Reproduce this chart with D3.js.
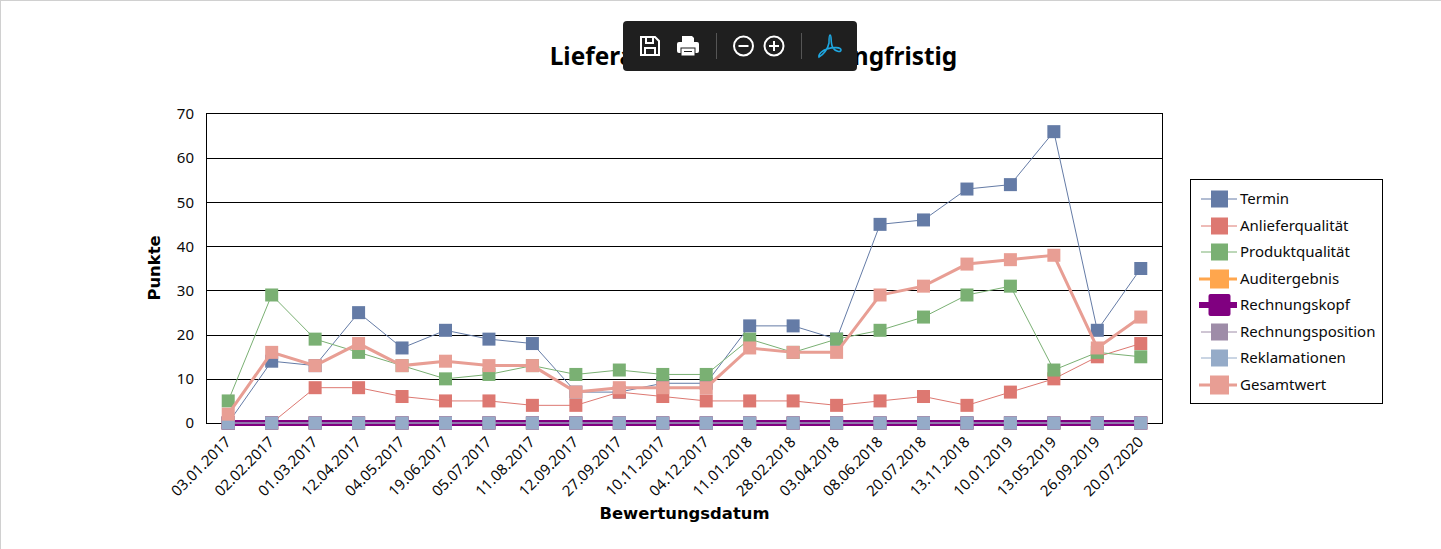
<!DOCTYPE html>
<html>
<head>
<meta charset="utf-8">
<script src="https://cdnjs.cloudflare.com/ajax/libs/d3/7.8.5/d3.min.js"></script>
<style>
html, body { margin: 0; padding: 0; background: #fff; overflow: hidden; }
svg { display: block; }
text { font-family: "Noto Sans", sans-serif; fill: #0a0a0a; }
.title { font-family: "Noto Sans", sans-serif; font-weight: bold; fill: #000; }
.axisTitle { font-family: "DejaVu Sans", sans-serif; font-weight: bold; fill: #000; }
</style>
</head>
<body>
<div id="chart"></div>
<script>
// chart values
var dates = ["03.01.2017", "02.02.2017", "01.03.2017", "12.04.2017", "04.05.2017", "19.06.2017",
    "05.07.2017", "11.08.2017", "12.09.2017", "27.09.2017", "10.11.2017", "04.12.2017",
    "11.01.2018", "28.02.2018", "03.04.2018", "08.06.2018", "20.07.2018", "13.11.2018",
    "10.01.2019", "13.05.2019", "26.09.2019", "20.07.2020"];
var termin = [0, 14, 13, 25, 17, 21, 19, 18, 7, 7, 9, 9, 22, 22, 19, 45, 46, 53, 54, 66, 21, 35];
var anlieferqualitaet = [0, 0, 8, 8, 6, 5, 5, 4, 4, 7, 6, 5, 5, 5, 4, 5, 6, 4, 7, 10, 15, 18];
var produktqualitaet = [5, 29, 19, 16, 13, 10, 11, 13, 11, 12, 11, 11, 19, 16, 19, 21, 24, 29, 31, 12, 16, 15];
var auditergebnis = [0, 0, 0, 0, 0, 0, 0, 0, 0, 0, 0, 0, 0, 0, 0, 0, 0, 0, 0, 0, 0, 0];
var rechnungskopf = [0, 0, 0, 0, 0, 0, 0, 0, 0, 0, 0, 0, 0, 0, 0, 0, 0, 0, 0, 0, 0, 0];
var rechnungsposition = [0, 0, 0, 0, 0, 0, 0, 0, 0, 0, 0, 0, 0, 0, 0, 0, 0, 0, 0, 0, 0, 0];
var reklamationen = [0, 0, 0, 0, 0, 0, 0, 0, 0, 0, 0, 0, 0, 0, 0, 0, 0, 0, 0, 0, 0, 0];
var gesamtwert = [2, 16, 13, 18, 13, 14, 13, 13, 7, 8, 8, 8, 17, 16, 16, 29, 31, 36, 37, 38, 17, 24];
var yTicks = [0, 10, 20, 30, 40, 50, 60, 70];

// draw order is legend order, Gesamtwert ends up on top
var series = [
    { name: "Termin", values: termin, color: "#647ba6", line: 1, box: 17 },
    { name: "Anlieferqualität", values: anlieferqualitaet, color: "#dd7871", line: 1, box: 17 },
    { name: "Produktqualität", values: produktqualitaet, color: "#7ab073", line: 1, box: 17 },
    { name: "Auditergebnis", values: auditergebnis, color: "#ffa64d", line: 3, box: 19 },
    { name: "Rechnungskopf", values: rechnungskopf, color: "#800080", line: 6, box: 22 },
    { name: "Rechnungsposition", values: rechnungsposition, color: "#9e8ca8", line: 1, box: 17 },
    { name: "Reklamationen", values: reklamationen, color: "#95abc8", line: 1, box: 17 },
    { name: "Gesamtwert", values: gesamtwert, color: "#e89e94", line: 3, box: 19 }
];

var svgWidth = 1441;
var svgHeight = 549;
var margin = { top: 114, bottom: 126, right: 279, left: 206 };
var height = svgHeight - margin.top - margin.bottom;
var width = svgWidth - margin.left - margin.right;
var markerSize = 13;

var svg = d3.select("#chart").append("svg")
    .attr("width", svgWidth)
    .attr("height", svgHeight);

// thin page frame
svg.append("rect")
    .attr("x", 0.5).attr("y", 0.5)
    .attr("width", svgWidth).attr("height", svgHeight)
    .attr("fill", "none")
    .attr("stroke", "#d0d0d0");

var chartGroup = svg.append("g")
    .attr("transform", `translate(${margin.left}, ${margin.top})`);

var xScale = d3.scaleBand().domain(dates).range([0, width]);
var yScale = d3.scaleLinear().domain([0, 70]).range([height, 0]);
var xPos = d => xScale(d) + xScale.bandwidth() / 2 + 0.5;

// gridlines, snapped to pixel rows
chartGroup.append("g")
    .selectAll("line")
    .data(yTicks.slice(1, -1))
    .enter()
    .append("line")
    .attr("x1", 0)
    .attr("x2", width)
    .attr("y1", d => Math.floor(yScale(d) + 0.4) + 0.5)
    .attr("y2", d => Math.floor(yScale(d) + 0.4) + 0.5)
    .attr("stroke", "#000");

// plot frame
chartGroup.append("rect")
    .attr("x", 0.5).attr("y", -0.5)
    .attr("width", width).attr("height", height + 1)
    .attr("fill", "none")
    .attr("stroke", "#000");

// axes
var leftAxis = d3.axisLeft(yScale).tickValues(yTicks).tickSize(0).tickPadding(12);
var yAxis = chartGroup.append("g").call(leftAxis);
yAxis.select(".domain").remove();
yAxis.selectAll("text").style("font-size", "15px").style("font-family", '"Noto Sans", sans-serif');

var bottomAxis = d3.axisBottom(xScale).tickSize(0).tickPadding(0);
var xAxis = chartGroup.append("g")
    .attr("transform", `translate(0, ${height})`)
    .call(bottomAxis);
xAxis.select(".domain").remove();
xAxis.selectAll("text")
    .style("font-size", "15px")
    .style("font-family", '"Noto Sans", sans-serif')
    .style("text-anchor", "end")
    .attr("dy", null)
    .attr("y", 0)
    .attr("transform", "translate(4, 20) rotate(-45)");

// lines and markers per series
var line = d3.line()
    .x((d, i) => xPos(dates[i]))
    .y(d => yScale(d));

series.forEach(function (s) {
    var group = chartGroup.append("g");
    group.append("path")
        .attr("d", line(s.values))
        .attr("fill", "none")
        .attr("stroke", s.color)
        .attr("stroke-width", s.line);
    group.selectAll("rect")
        .data(s.values)
        .enter()
        .append("rect")
        .attr("x", (d, i) => xPos(dates[i]) - markerSize / 2)
        .attr("y", d => yScale(d) - markerSize / 2)
        .attr("width", markerSize)
        .attr("height", markerSize)
        .attr("fill", s.color);
});

// titles
svg.append("text")
    .attr("class", "title")
    .attr("x", 753.5)
    .attr("y", 65)
    .attr("text-anchor", "middle")
    .style("font-size", "24.4px")
    .text("Lieferantenbewertung langfristig");

svg.append("text")
    .attr("class", "axisTitle")
    .attr("x", 684.5)
    .attr("y", 519)
    .attr("text-anchor", "middle")
    .style("font-size", "16.4px")
    .text("Bewertungsdatum");

svg.append("text")
    .attr("class", "axisTitle")
    .attr("transform", "translate(160, 268) rotate(-90)")
    .attr("text-anchor", "middle")
    .style("font-size", "16.4px")
    .text("Punkte");

// legend
var legendRow = d3.scaleLinear().domain([0, 7]).range([199, 385]);
svg.append("rect")
    .attr("x", 1190.5).attr("y", 179.5)
    .attr("width", 192).attr("height", 224)
    .attr("fill", "#fff")
    .attr("stroke", "#000");

var legend = svg.selectAll(".legendItem")
    .data(series)
    .enter()
    .append("g")
    .attr("class", "legendItem")
    .attr("transform", (d, i) => `translate(0, ${Math.round(legendRow(i))})`);

legend.append("line")
    .attr("x1", d => d.line > 1 ? 1199 : 1201)
    .attr("x2", 1237)
    .attr("stroke", d => d.color)
    .attr("stroke-width", d => d.line);

legend.append("rect")
    .attr("x", d => 1219.5 - d.box / 2)
    .attr("y", d => -d.box / 2)
    .attr("width", d => d.box)
    .attr("height", d => d.box)
    .attr("rx", d => d.line === 6 ? 2 : 0)
    .attr("fill", d => d.color);

legend.append("text")
    .attr("x", 1240)
    .attr("y", 5)
    .style("font-size", "15px")
    .text(d => d.name);

// viewer toolbar that sits over the title
var toolbar = svg.append("g").attr("transform", "translate(623, 21)");
toolbar.append("rect")
    .attr("width", 234).attr("height", 50).attr("rx", 4)
    .attr("fill", "#1f1f1f");

// save icon
var save = toolbar.append("g").attr("transform", "translate(27, 25)")
    .attr("fill", "none").attr("stroke", "#fff").attr("stroke-width", 2);
save.append("path").attr("d", "M-9,-9H5L9,-5V9H-9Z");
save.append("path").attr("d", "M-4,-9V-3H3V-9");
save.append("path").attr("d", "M-5,9V2H5V9");

// print icon
var print = toolbar.append("g").attr("transform", "translate(65, 25)").attr("fill", "#fff");
print.append("path").attr("d", "M-6,-4V-10H4L6,-8V-4Z");
print.append("rect").attr("x", -11).attr("y", -4).attr("width", 22).attr("height", 11).attr("rx", 2);
print.append("rect").attr("x", -7).attr("y", 2).attr("width", 14).attr("height", 8).attr("fill", "#fff").attr("stroke", "#1f1f1f").attr("stroke-width", 1);
print.append("rect").attr("x", -4).attr("y", 5).attr("width", 8).attr("height", 1).attr("fill", "#1f1f1f");

toolbar.append("line").attr("x1", 93.5).attr("x2", 93.5).attr("y1", 12).attr("y2", 38).attr("stroke", "#555");
toolbar.append("line").attr("x1", 178.5).attr("x2", 178.5).attr("y1", 12).attr("y2", 38).attr("stroke", "#555");

// zoom icons
[{ x: 120.5, plus: false }, { x: 151, plus: true }].forEach(function (z) {
    var g = toolbar.append("g").attr("transform", `translate(${z.x}, 25)`)
        .attr("fill", "none").attr("stroke", "#fff").attr("stroke-width", 2);
    g.append("circle").attr("r", 9.5);
    g.append("line").attr("x1", -5).attr("x2", 5);
    if (z.plus) g.append("line").attr("y1", -5).attr("y2", 5);
});

// acrobat icon
toolbar.append("path")
    .attr("transform", "translate(207, 25)")
    .attr("d", "M-11,11C-7,9 -2,3 -1,-3C-1,-7 -1,-11 0,-11C2,-11 0,-3 3,2C5,5 11,7 11,4C11,1 3,1 -3,3C-7,4 -12,8 -11,11Z")
    .attr("fill", "none")
    .attr("stroke", "#1ea7e1")
    .attr("stroke-width", 1.6);
</script>
</body>
</html>
